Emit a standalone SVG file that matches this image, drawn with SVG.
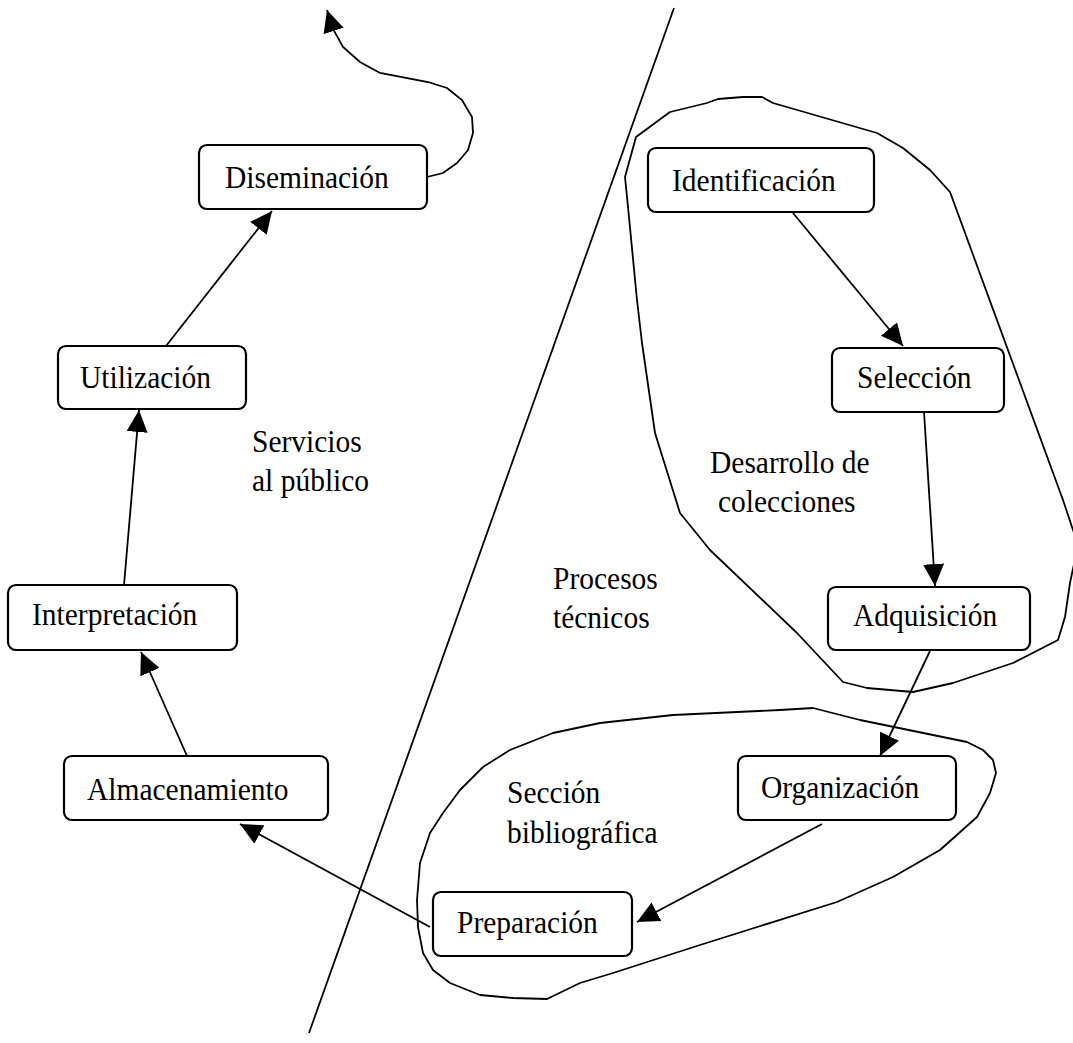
<svg xmlns="http://www.w3.org/2000/svg" width="1073" height="1043" viewBox="0 0 1073 1043">
  <style>
    .box { fill: #ffffff; stroke: #000000; stroke-width: 2.2; }
    .lbl { font-family: "Liberation Serif", "Times New Roman", serif; font-size: 29.5px; fill: #000000; }
    .edge { fill: none; stroke: #000000; stroke-width: 1.8; }
    .area { fill: none; stroke: #000000; stroke-width: 1.8; stroke-linejoin: round; }
  </style>
  <defs>
    <marker id="arrow" markerUnits="userSpaceOnUse" markerWidth="22" markerHeight="21" refX="22" refY="10.5" orient="auto">
      <path d="M0,0 L22,10.5 L0,21 Z" fill="#000000"/>
    </marker>
  </defs>

  <rect width="1073" height="1043" fill="#ffffff"/>

  <!-- dividing line between public services and technical processes -->
  <line class="edge" x1="674" y1="8" x2="309" y2="1033"/>

  <!-- outlined areas -->
  <g id="areas">
    <path id="area-colecciones" class="area" d="M743,97 L762,97 L773,103 L877,133 L903,148 L930,170 L950,192 L1063,500 L1078,545 L1070,583 L1065,617 L1058,640 L1013,663 L953,683 L913,692 L867,688 L843,682 L797,633 L710,550 L680,513 L655,433 L642,343 L637,300 L628,207 L625,177 L636,137 L670,112 L707,103 L718,99 Z"/>
    <path id="area-bibliografica" class="area" d="M417,900 L420,863 L430,833 L443,813 L460,790 L483,767 L510,750 L553,733 L600,723 L673,715 L780,710 L813,708 L860,720 L967,742 L983,750 L993,760 L996,773 L990,793 L977,817 L940,850 L893,877 L837,902 L700,945 L613,973 L580,983 L547,999 L513,998 L480,995 L450,983 L433,970 L423,953 L418,927 Z"/>
  </g>

  <!-- area captions -->
  <g id="captions">
    <text class="lbl" transform="translate(252,452) scale(1,1.08)">Servicios</text>
    <text class="lbl" transform="translate(252,491) scale(1,1.08)">al público</text>
    <text class="lbl" transform="translate(553,589) scale(1,1.08)">Procesos</text>
    <text class="lbl" transform="translate(553,628) scale(1,1.08)">técnicos</text>
    <text class="lbl" transform="translate(710,473) scale(1,1.08)">Desarrollo de</text>
    <text class="lbl" transform="translate(718,512) scale(1,1.08)">colecciones</text>
    <text class="lbl" transform="translate(507,803) scale(1,1.08)">Sección</text>
    <text class="lbl" transform="translate(507,843) scale(1,1.08)">bibliográfica</text>
  </g>

  <!-- connectors -->
  <g id="connectors">
    <path class="edge" marker-end="url(#arrow)" d="M427,177 L443,173 L457,163 L468,150 L473,133 L472,117 L462,100 L447,88 L428,82 L380,73 L360,62 L343,47 L333,29 L327,10"/>
    <line class="edge" marker-end="url(#arrow)" x1="166" y1="346" x2="272" y2="211"/>
    <line class="edge" marker-end="url(#arrow)" x1="124" y1="585" x2="139" y2="410"/>
    <line class="edge" marker-end="url(#arrow)" x1="187" y1="756" x2="141" y2="652"/>
    <line class="edge" marker-end="url(#arrow)" x1="430" y1="927" x2="240" y2="824"/>
    <line class="edge" marker-end="url(#arrow)" x1="822" y1="824" x2="637" y2="922"/>
    <line class="edge" marker-end="url(#arrow)" x1="930" y1="651" x2="880" y2="756"/>
    <line class="edge" marker-end="url(#arrow)" x1="924" y1="412" x2="935" y2="586"/>
    <line class="edge" marker-end="url(#arrow)" x1="793" y1="213" x2="903" y2="346"/>
  </g>

  <!-- nodes -->
  <g id="node-diseminacion">
    <rect class="box" x="199" y="145" width="228" height="64" rx="8"/>
    <text class="lbl" transform="translate(225,188) scale(1,1.08)">Diseminación</text>
  </g>
  <g id="node-utilizacion">
    <rect class="box" x="58" y="346" width="188" height="63" rx="8"/>
    <text class="lbl" transform="translate(80,388) scale(1,1.08)">Utilización</text>
  </g>
  <g id="node-interpretacion">
    <rect class="box" x="8" y="585" width="229" height="65" rx="8"/>
    <text class="lbl" transform="translate(32,625) scale(1,1.08)">Interpretación</text>
  </g>
  <g id="node-almacenamiento">
    <rect class="box" x="64" y="756" width="264" height="64" rx="8"/>
    <text class="lbl" transform="translate(87,800) scale(1,1.08)">Almacenamiento</text>
  </g>
  <g id="node-preparacion">
    <rect class="box" x="433" y="892" width="199" height="64" rx="8"/>
    <text class="lbl" transform="translate(457,933) scale(1,1.08)">Preparación</text>
  </g>
  <g id="node-organizacion">
    <rect class="box" x="738" y="756" width="218" height="64" rx="8"/>
    <text class="lbl" transform="translate(761,798) scale(1,1.08)">Organización</text>
  </g>
  <g id="node-identificacion">
    <rect class="box" x="648" y="148" width="226" height="64" rx="8"/>
    <text class="lbl" transform="translate(672,191) scale(1,1.08)">Identificación</text>
  </g>
  <g id="node-seleccion">
    <rect class="box" x="832" y="348" width="172" height="64" rx="8"/>
    <text class="lbl" transform="translate(857,388) scale(1,1.08)">Selección</text>
  </g>
  <g id="node-adquisicion">
    <rect class="box" x="828" y="587" width="202" height="63" rx="8"/>
    <text class="lbl" transform="translate(853,626) scale(1,1.08)">Adquisición</text>
  </g>
</svg>
